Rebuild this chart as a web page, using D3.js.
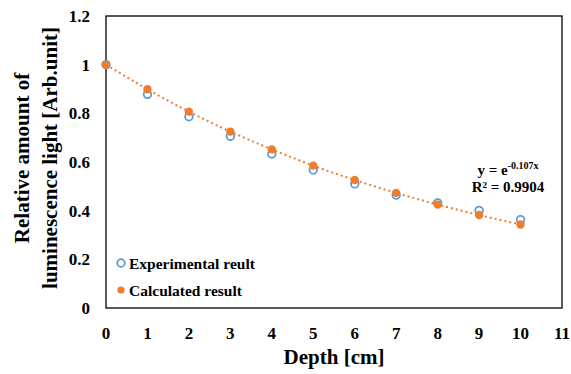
<!DOCTYPE html>
<html><head><meta charset="utf-8">
<script src="https://cdn.jsdelivr.net/npm/d3@7"></script>
<style>body{margin:0;background:#fff}svg{display:block}</style>
</head><body>
<svg id="c" width="571" height="374" font-family="'Liberation Serif', 'Times New Roman', Tinos, 'DejaVu Serif', serif" font-weight="bold"></svg>
<script>
const depths = [0,1,2,3,4,5,6,7,8,9,10];
const experimental = [1.0,0.878,0.786,0.706,0.633,0.567,0.510,0.464,0.432,0.401,0.363];
const calculated = [1.0,0.899,0.807,0.725,0.652,0.585,0.526,0.473,0.425,0.382,0.343];
const xTicks = [0,1,2,3,4,5,6,7,8,9,10,11];
const yTicks = [0,0.2,0.4,0.6,0.8,1,1.2];
const seriesNames = ["Experimental reult","Calculated result"];

const svg = d3.select("#c");
const L=106,R=562,T=16,B=308;
const x = d3.scaleLinear().domain([0,11]).range([L,R]);
const y = d3.scaleLinear().domain([0,1.2]).range([B,T]);
const blue="#5B9BD5", orange="#ED7D31";

svg.append("rect").attr("x",L).attr("y",T).attr("width",R-L).attr("height",B-T)
  .attr("fill","none").attr("stroke","#000").attr("stroke-width",1.3);

svg.append("g").selectAll("text").data(xTicks).join("text")
  .attr("x",d=>x(d)).attr("y",339).attr("text-anchor","middle").attr("font-size",17).text(d=>d);
svg.append("g").selectAll("text").data(yTicks).join("text")
  .attr("x",90).attr("y",d=>y(d)+6).attr("text-anchor","end").attr("font-size",17).text(d=>d);

// trendline
const pts = depths.map((d,i)=>[d,calculated[i]]);
svg.append("path").datum(pts)
  .attr("d",d3.line().x(d=>x(d[0])).y(d=>y(d[1])).curve(d3.curveNatural))
  .attr("fill","none").attr("stroke",orange).attr("stroke-width",2).attr("stroke-dasharray","2,3");

svg.append("g").selectAll("circle").data(depths).join("circle")
  .attr("cx",d=>x(d)).attr("cy",(d,i)=>y(experimental[i])).attr("r",3.8)
  .attr("fill","none").attr("stroke",blue).attr("stroke-width",1.8);
svg.append("g").selectAll("circle").data(depths).join("circle")
  .attr("cx",d=>x(d)).attr("cy",(d,i)=>y(calculated[i])).attr("r",4.2)
  .attr("fill",orange);

// legend
svg.append("circle").attr("cx",121).attr("cy",263).attr("r",3.8).attr("fill","none").attr("stroke",blue).attr("stroke-width",1.8);
svg.append("text").attr("x",129).attr("y",268.5).attr("font-size",15.5).text(seriesNames[0]);
svg.append("circle").attr("cx",121).attr("cy",290).attr("r",3.6).attr("fill",orange);
svg.append("text").attr("x",129).attr("y",295.5).attr("font-size",15.5).text(seriesNames[1]);

// annotation
const a = svg.append("text").attr("x",508).attr("y",175).attr("text-anchor","middle").attr("font-size",15);
a.append("tspan").text("y = e");
a.append("tspan").attr("font-size",10).attr("dy",-6).text("-0.107x");
svg.append("text").attr("x",508).attr("y",192).attr("text-anchor","middle").attr("font-size",15).text("R² = 0.9904");

// axis titles
svg.append("text").attr("x",334).attr("y",364).attr("text-anchor","middle").attr("font-size",21).text("Depth [cm]");
const yt = svg.append("g").attr("transform","translate(0,158) rotate(-90)");
yt.append("text").attr("x",0).attr("y",29).attr("text-anchor","middle").attr("font-size",21).text("Relative amount of");
yt.append("text").attr("x",0).attr("y",57).attr("text-anchor","middle").attr("font-size",21).text("luminescence light [Arb.unit]");
</script>
</body></html>
